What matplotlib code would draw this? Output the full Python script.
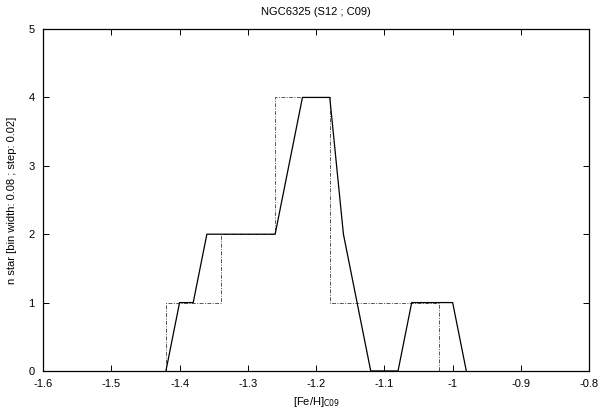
import matplotlib
matplotlib.use("Agg")
import matplotlib.pyplot as plt

# sliding histogram (bin width 0.08, step 0.02)
slide_x = [-1.42, -1.40, -1.38, -1.36, -1.26, -1.22, -1.18, -1.16, -1.12, -1.08, -1.06, -1.00, -0.98]
slide_n = [0, 1, 1, 2, 2, 4, 4, 2, 0, 0, 1, 1, 0]

# plain histogram, bin width 0.08
bin_edges = [-1.42, -1.34, -1.26, -1.18, -1.10, -1.02]
bin_counts = [1, 2, 4, 1, 1]

xticks = [-1.6, -1.5, -1.4, -1.3, -1.2, -1.1, -1.0, -0.9, -0.8]
xticklabels = ["-1.6", "-1.5", "-1.4", "-1.3", "-1.2", "-1.1", "-1", "-0.9", "-0.8"]
yticks = [0, 1, 2, 3, 4, 5]

plt.rcParams['font.family'] = ['Liberation Sans', 'DejaVu Sans']
plt.rcParams['font.size'] = 8

fig = plt.figure(figsize=(6, 4.09), dpi=100)
ax = fig.add_axes([0.0717, 0.093, 0.9103, 0.836])

# step histogram outline
hx = [bin_edges[0]]
hy = [0]
for i in range(len(bin_counts)):
    hx += [bin_edges[i], bin_edges[i + 1]]
    hy += [bin_counts[i], bin_counts[i]]
hx.append(bin_edges[-1])
hy.append(0)
ax.plot(hx, hy, color='#555555', lw=0.7, dashes=[4, 1.5, 1, 1.5])

ax.plot(slide_x, slide_n, color='black', lw=0.9)

ax.set_xlim(-1.6, -0.8)
ax.set_ylim(0, 5)
ax.set_xticks(xticks)
ax.set_xticklabels(xticklabels)
ax.set_yticks(yticks)
ax.tick_params(direction='in', top=True, right=True, length=4, width=0.7, pad=6)
for s in ax.spines.values():
    s.set_linewidth(0.9)

ax.set_title("NGC6325 (S12 ; C09)", fontsize=8, pad=10)
ax.set_xlabel("[Fe/H]$_{\\mathrm{C09}}$", fontsize=8, labelpad=4)
ax.set_ylabel("n star [bin width: 0.08 ; step: 0.02]", fontsize=8, labelpad=8)

fig.savefig("out.png", dpi=100)
